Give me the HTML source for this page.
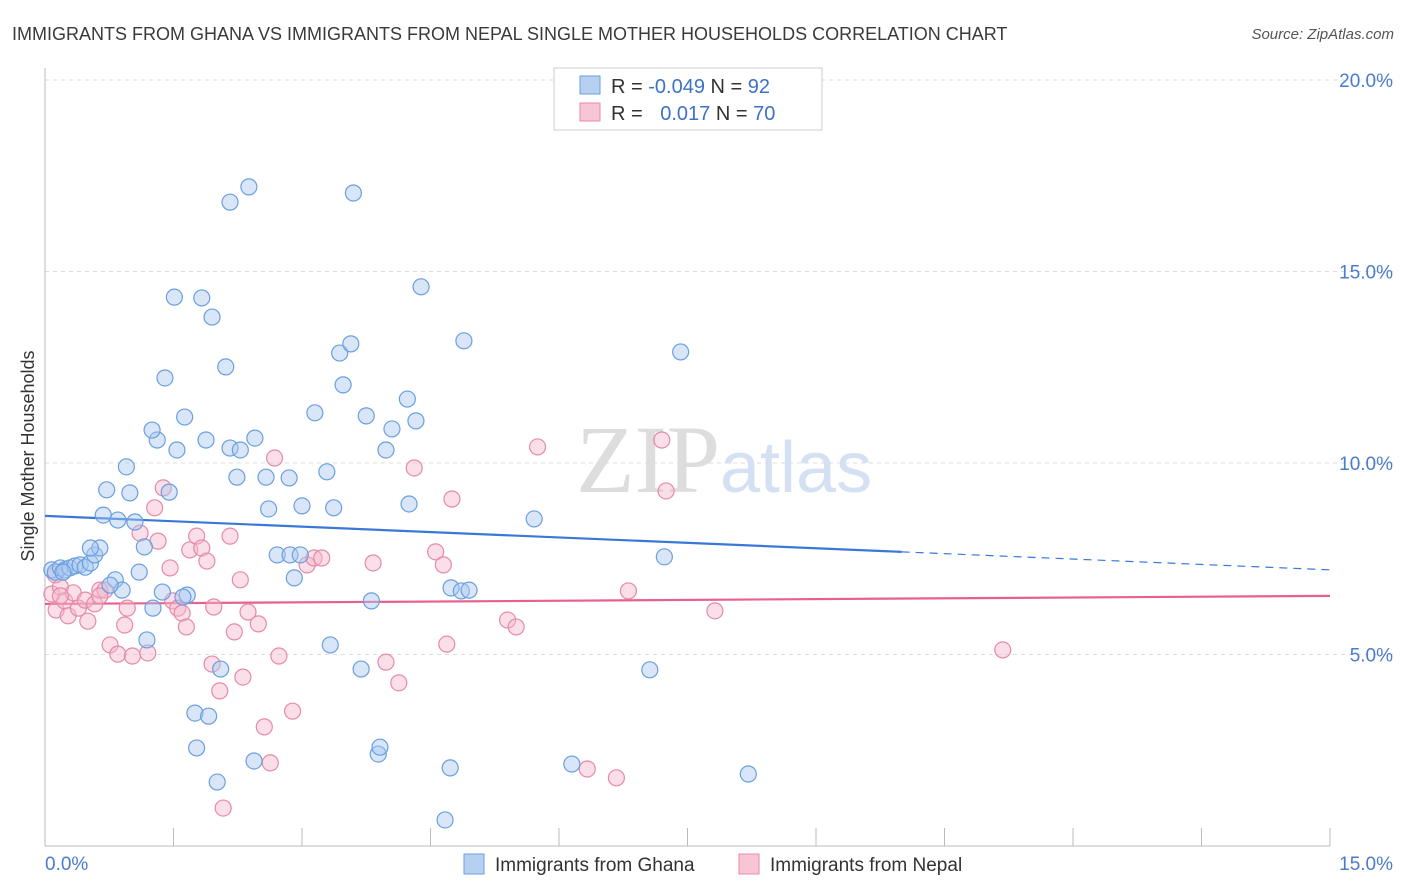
<!DOCTYPE html>
<html><head><meta charset="utf-8"><style>
body{margin:0;background:#fff;font-family:"Liberation Sans",sans-serif;}
svg{display:block}
</style></head><body>
<svg id="chart" width="1406" height="892" viewBox="0 0 1406 892">
<text x="12" y="40" font-size="18" fill="#3a3a3a">IMMIGRANTS FROM GHANA VS IMMIGRANTS FROM NEPAL SINGLE MOTHER HOUSEHOLDS CORRELATION CHART</text>
<text x="1394" y="39" font-size="15" fill="#555" font-style="italic" text-anchor="end">Source: ZipAtlas.com</text>
<text x="720" y="492" font-size="96" fill="#ddd" font-family="Liberation Serif,serif" text-anchor="end">ZIP</text>
<text x="720" y="492" font-size="72" fill="#d4e1f3">atlas</text>
<g id="grid"></g><g id="axes"></g><g id="trend"></g><g id="points"></g>
<g>
<rect x="554" y="68" width="268" height="62" fill="#fff" stroke="#ccc"/>
<rect x="580" y="76" width="20" height="18" fill="#b6d0f2" stroke="#6a9fe0"/>
<rect x="580" y="103" width="20" height="18" fill="#f8c5d5" stroke="#e68aa8"/>
<text x="611" y="93" font-size="20" fill="#333">R = <tspan fill="#3d72c9">-0.049</tspan>   N = <tspan fill="#3d72c9">92</tspan></text>
<text x="611" y="120" font-size="20" fill="#333">R = <tspan fill="#3d72c9" dx="12">0.017</tspan>   N = <tspan fill="#3d72c9">70</tspan></text>
</g>
<g>
<rect x="464" y="854" width="20" height="20" fill="#b6d0f2" stroke="#6a9fe0"/>
<text x="495" y="871" font-size="19" fill="#333">Immigrants from Ghana</text>
<rect x="739" y="854" width="20" height="20" fill="#f8c5d5" stroke="#e68aa8"/>
<text x="770" y="871" font-size="19" fill="#333">Immigrants from Nepal</text>
</g>
<text transform="translate(34,456) rotate(-90)" font-size="18" fill="#333" text-anchor="middle">Single Mother Households</text>
</svg>
<script>
const ghanaX=[0.08,0.12,0.18,0.23,0.29,0.35,0.41,0.47,0.53,0.58,0.64,0.53,0.68,0.85,0.72,0.99,0.95,1.05,1.16,0.82,0.90,0.76,1.10,1.26,1.19,1.37,1.45,1.31,1.25,1.40,1.51,1.54,1.63,1.66,1.83,1.95,1.88,2.11,2.16,2.24,2.28,2.45,2.16,2.38,2.61,2.58,2.85,2.71,2.86,2.98,2.91,3.00,3.15,3.29,3.37,3.48,3.44,3.57,3.60,3.75,3.98,4.05,4.23,4.33,4.39,4.25,3.81,3.33,3.69,2.05,1.75,1.91,1.77,2.01,2.44,3.89,3.91,4.73,4.67,4.74,4.86,4.95,4.89,5.71,6.15,7.23,7.06,7.42,8.21,1.61,0.21];
const ghanaY=[7.21,7.15,7.26,7.21,7.26,7.31,7.34,7.28,7.39,7.60,7.78,7.78,8.64,8.51,9.30,9.22,9.90,8.46,7.81,6.95,6.68,6.81,7.15,6.21,5.38,6.63,9.24,10.60,10.86,12.22,14.33,10.34,11.20,6.55,14.31,13.81,10.60,12.51,10.39,9.63,10.34,10.65,16.81,17.21,8.80,9.63,9.61,7.60,7.60,7.60,7.00,8.88,11.31,9.77,8.83,12.04,12.87,13.11,17.05,11.23,10.34,10.89,11.67,11.10,14.60,8.93,6.40,5.25,4.62,4.62,3.47,3.39,2.56,1.67,2.22,2.40,2.58,2.04,0.68,6.74,6.66,6.68,13.19,8.54,2.14,7.55,4.60,12.90,1.88,6.50,7.15];
const nepalX=[0.08,0.13,0.18,0.23,0.27,0.33,0.39,0.47,0.50,0.58,0.64,0.70,0.76,0.85,0.93,0.96,1.02,1.11,1.20,1.28,1.32,1.38,1.46,1.49,1.55,1.60,1.65,1.69,1.77,1.83,1.89,1.95,1.97,2.04,2.08,2.16,2.21,2.28,2.31,2.37,2.49,2.56,2.63,2.68,2.73,2.89,3.06,3.14,3.23,3.83,3.98,4.13,4.31,4.56,4.65,4.69,4.75,5.40,5.50,5.75,6.33,6.67,6.81,7.20,7.25,7.82,11.18,0.12,0.18,0.64];
const nepalY=[6.58,6.16,6.76,6.40,6.01,6.61,6.21,6.42,5.87,6.32,6.68,6.68,5.25,5.01,5.77,6.21,4.96,8.17,5.04,8.83,7.96,9.35,7.26,6.40,6.21,6.08,5.72,7.73,8.09,7.78,7.44,4.75,6.24,4.05,0.99,8.09,5.59,6.95,4.41,6.11,5.80,3.11,2.17,10.13,4.96,3.52,7.34,7.52,7.52,7.39,4.80,4.26,9.87,7.68,7.34,5.27,9.06,5.90,5.72,10.42,2.01,1.78,6.66,10.60,9.27,6.14,5.12,7.08,6.53,6.53];
const yTicks=[5,10,15,20];
const yTickLabels=["5.0%","10.0%","15.0%","20.0%"];
const xTicks=[0,1.5,3,4.5,6,7.5,9,10.5,12,13.5,15];
const ghanaTrend=[8.62,7.21];
const nepalTrend=[6.32,6.53];
const ghanaSolidEnd=10.0;

const NS="http://www.w3.org/2000/svg";
const X0=45,X1=1330,Y0=846,PY=38.3;
const sx=v=>X0+(X1-X0)*v/15;
const sy=v=>Y0-v*PY;
function mk(tag,attrs,parent){const e=document.createElementNS(NS,tag);for(const k in attrs)e.setAttribute(k,attrs[k]);parent.appendChild(e);return e;}
const grid=document.getElementById('grid'),axes=document.getElementById('axes'),trend=document.getElementById('trend'),pts=document.getElementById('points');
yTicks.forEach((t,i)=>{
 const l=mk('line',{x1:X0,x2:1394,y1:sy(t),y2:sy(t),stroke:'#ddd','stroke-dasharray':'4,4'},grid);
 
 
 const tx=mk('text',{x:1393,y:sy(t)+7,'font-size':19,fill:'#4a7ccc','text-anchor':'end'},axes);
 tx.textContent=yTickLabels[i];
 
 
});
const ax=mk('line',{x1:X0,x2:X1,y1:Y0,y2:Y0,stroke:'#bbb'},axes);


const ay=mk('line',{x1:X0,x2:X0,y1:68,y2:Y0,stroke:'#bbb'},axes);


xTicks.forEach(t=>{
 const l=mk('line',{x1:sx(t),x2:sx(t),y1:Y0,y2:Y0-18,stroke:'#bbb'},axes);
 
 
});
const xl=mk('text',{x:45,y:870,'font-size':19,fill:'#4a7ccc'},axes);xl.textContent='0.0%';


const xr=mk('text',{x:1393,y:870,'font-size':19,fill:'#4a7ccc','text-anchor':'end'},axes);xr.textContent='15.0%';


function drawPts(xs,ys,fill,stroke,name){
 xs.forEach((x,i)=>{
  const c=mk('circle',{cx:sx(x),cy:sy(ys[i]),r:8,fill:fill,'fill-opacity':0.45,stroke:stroke,'stroke-width':1.2},pts);
  
  
 });
}
drawPts(nepalX,nepalY,'#f5b8cc','#e68aa8','nepal-point');
drawPts(ghanaX,ghanaY,'#a9c8f0','#6a9fe0','ghana-point');
const gy=x=>ghanaTrend[0]+(ghanaTrend[1]-ghanaTrend[0])*x/15;
const t1=mk('line',{x1:sx(0),y1:sy(gy(0)),x2:sx(ghanaSolidEnd),y2:sy(gy(ghanaSolidEnd)),stroke:'#3a78d8','stroke-width':2.2},trend);


const t2=mk('line',{x1:sx(ghanaSolidEnd),y1:sy(gy(ghanaSolidEnd)),x2:sx(15),y2:sy(gy(15)),stroke:'#3a78d8','stroke-width':1.2,'stroke-dasharray':'8,6'},trend);


const t3=mk('line',{x1:sx(0),y1:sy(nepalTrend[0]),x2:sx(15),y2:sy(nepalTrend[1]),stroke:'#e8608c','stroke-width':2.2},trend);


</script>
</body></html>
